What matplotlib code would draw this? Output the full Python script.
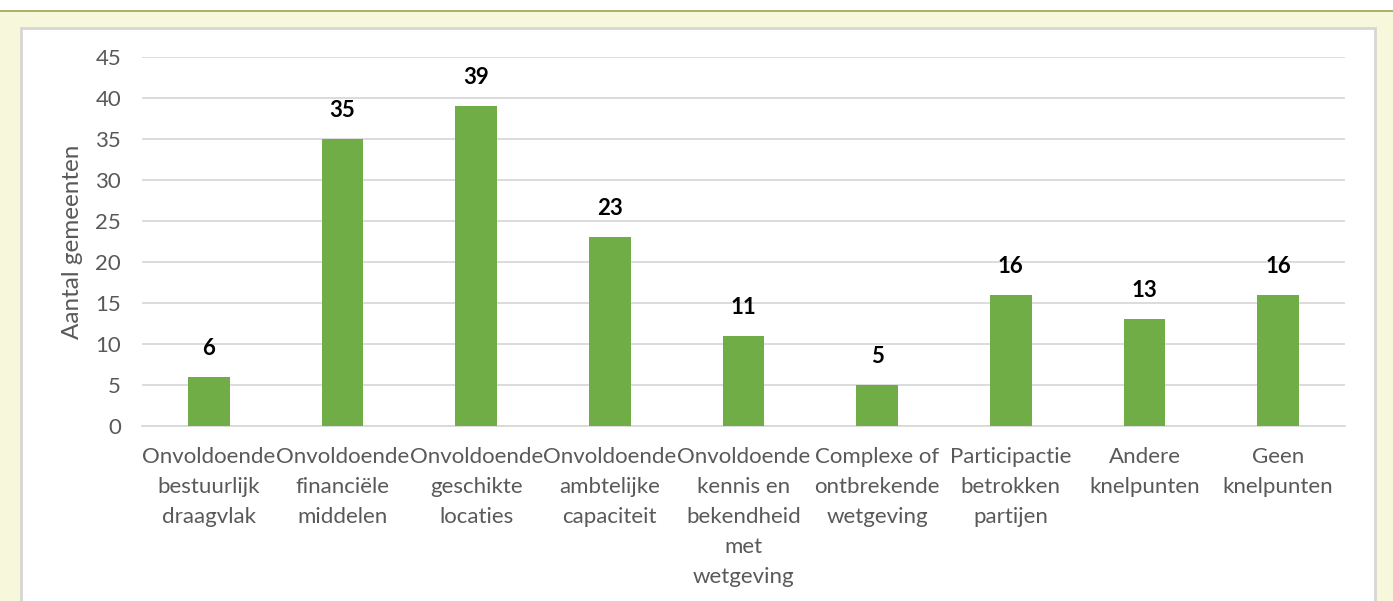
import matplotlib
matplotlib.use("Agg")
import matplotlib.pyplot as plt
from matplotlib.patches import Rectangle
from matplotlib.lines import Line2D

categories = [
    "Onvoldoende\nbestuurlijk\ndraagvlak",
    "Onvoldoende\nfinanciële\nmiddelen",
    "Onvoldoende\ngeschikte\nlocaties",
    "Onvoldoende\nambtelijke\ncapaciteit",
    "Onvoldoende\nkennis en\nbekendheid\nmet\nwetgeving",
    "Complexe of\nontbrekende\nwetgeving",
    "Participactie\nbetrokken\npartijen",
    "Andere\nknelpunten",
    "Geen\nknelpunten",
]
values = [6, 35, 39, 23, 11, 5, 16, 13, 16]
yticks = [0, 5, 10, 15, 20, 25, 30, 35, 40, 45]
ylabel = "Aantal gemeenten"

W, H = 1393, 601
plt.rcParams['font.family'] = ['Lato', 'DejaVu Sans']
fig = plt.figure(figsize=(W / 100, H / 100), dpi=100)
fig.patch.set_facecolor("white")

def fx(px):
    return px / W

def fy(py):
    return 1 - py / H

# background frame
fig.patches.append(Rectangle((0, 0), 1, fy(11.5), transform=fig.transFigure,
                             facecolor="#F7F7DC", edgecolor="none", zorder=-3))
fig.lines.append(Line2D([0, 1], [fy(11), fy(11)], transform=fig.transFigure,
                        color="#9AA64B", linewidth=1.2, zorder=-2))
fig.patches.append(Rectangle((fx(21), -0.02), fx(1375) - fx(21), fy(28) + 0.02,
                             transform=fig.transFigure, facecolor="white",
                             edgecolor="#D6D6D6", linewidth=2, zorder=-1))

ax = fig.add_axes([fx(142), fy(426), fx(1345) - fx(142), fy(57) - fy(426)])
ax.set_zorder(2)
ax.set_facecolor("none")
x = list(range(len(categories)))
bars = ax.bar(x, values, width=0.31, color="#70AD47", zorder=3)
ax.set_xlim(-0.5, len(categories) - 0.5)
ax.set_ylim(0, 45)
ax.set_yticks(yticks)
ax.grid(axis="y", color="#D9D9D9", linewidth=1.3, zorder=0)
ax.set_axisbelow(True)
for s in ["top", "right", "left"]:
    ax.spines[s].set_visible(False)
ax.spines["bottom"].set_color("#D9D9D9")
ax.spines["bottom"].set_linewidth(1.3)
ax.tick_params(axis="y", length=0, pad=15, labelsize=16, labelcolor="#595959")
ax.tick_params(axis="x", length=0, pad=15, labelsize=16, labelcolor="#595959")
ax.set_xticks(x)
ax.set_xticklabels(categories, linespacing=1.62)
ax.set_ylabel(ylabel, fontsize=17.5, color="#595959")
ax.yaxis.set_label_coords(-0.049, 0.5)

for xi, v in zip(x, values):
    ax.annotate(str(v), (xi, v), xytext=(0, 13), textcoords="offset points",
                ha="center", va="bottom", fontsize=16, fontweight="bold",
                color="black")

fig.savefig("out.png", dpi=100)
